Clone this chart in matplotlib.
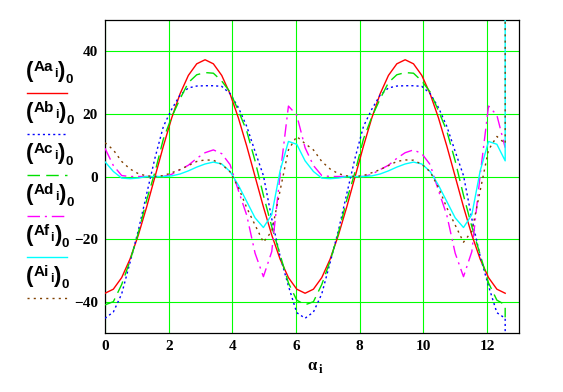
import matplotlib
matplotlib.use('Agg')
import matplotlib.pyplot as plt
from matplotlib.lines import Line2D

plt.rcParams['font.family'] = ['Liberation Serif', 'DejaVu Serif']
plt.rcParams['font.weight'] = 'bold'
plt.rcParams['lines.scale_dashes'] = False

# angle alpha_i (rad), two periods; the last sample repeats 4*pi (jump at the end)
alpha = [0.000, 0.262, 0.524, 0.785, 1.047, 1.309, 1.571, 1.833, 2.094, 2.356,
         2.618, 2.880, 3.142, 3.403, 3.665, 3.927, 4.189, 4.451, 4.712, 4.974,
         5.236, 5.498, 5.760, 6.021, 6.283, 6.545, 6.807, 7.069, 7.330, 7.592,
         7.854, 8.116, 8.378, 8.639, 8.901, 9.163, 9.425, 9.687, 9.948, 10.210,
         10.472, 10.734, 10.996, 11.257, 11.519, 11.781, 12.043, 12.305, 12.566, 12.566]

Aa = [-37.3, -36.0, -32.3, -26.4, -18.7, -9.7, 0.0, 9.7, 18.7, 26.4,
      32.3, 36.0, 37.3, 36.0, 32.3, 26.4, 18.7, 9.7, 0.0, -9.7,
      -18.7, -26.4, -32.3, -36.0, -37.3, -36.0, -32.3, -26.4, -18.7, -9.7,
      0.0, 9.7, 18.7, 26.4, 32.3, 36.0, 37.3, 36.0, 32.3, 26.4,
      18.7, 9.7, 0.0, -9.7, -18.7, -26.4, -32.3, -36.0, -37.3, -37.3]

Ab = [-45.3, -43.3, -37.5, -27.5, -17.2, -5.5, 6.0, 16.0, 21.5, 26.0,
      28.3, 28.9, 29.0, 29.0, 28.8, 26.5, 22.0, 16.0, 8.0, 0.3,
      -13.5, -25.5, -35.0, -43.5, -45.3, -43.3, -37.5, -27.5, -17.2, -5.5,
      6.0, 16.0, 21.5, 26.0, 28.3, 28.9, 29.0, 29.0, 28.8, 26.5,
      22.0, 16.0, 8.0, 0.3, -13.5, -25.5, -35.0, -43.5, -45.3, -1000.0]

Ac = [-41.0, -40.0, -34.5, -27.0, -18.0, -7.5, 1.5, 12.0, 19.0, 24.8,
      30.0, 32.5, 33.2, 33.0, 30.5, 27.0, 21.0, 14.5, 5.0, -6.0,
      -16.0, -25.0, -34.0, -39.5, -41.0, -40.0, -34.5, -27.0, -18.0, -7.5,
      1.5, 12.0, 19.0, 24.8, 30.0, 32.5, 33.2, 33.0, 30.5, 27.0,
      21.0, 14.5, 5.0, -6.0, -16.0, -25.0, -34.0, -39.5, -41.0, -45.0]

Ad = [9.0, 3.5, 0.3, 0.0, 0.0, 0.0, 0.0, 0.0, 0.7, 2.2,
      3.6, 5.8, 7.6, 8.5, 7.3, 3.8, -4.5, -12.4, -24.5, -32.0,
      -24.0, 0.5, 22.5, 19.6, 9.2, 3.5, 0.3, 0.0, 0.0, 0.0,
      0.0, 0.0, 0.7, 2.2, 3.6, 5.8, 7.6, 8.5, 7.3, 3.8,
      -4.5, -12.4, -24.5, -32.0, -24.0, 0.5, 22.5, 19.6, 9.2, 9.2]

Af = [4.7, 1.6, -0.5, -0.7, -0.5, 0.0, 0.0, 0.0, 0.2, 0.8,
      1.8, 3.0, 4.0, 4.6, 4.0, 1.6, -2.8, -8.0, -13.2, -16.3,
      -12.2, 1.8, 11.2, 10.3, 5.0, 1.6, -0.5, -0.7, -0.5, 0.0,
      0.0, 0.0, 0.2, 0.8, 1.8, 3.0, 4.0, 4.6, 4.0, 1.6,
      -2.8, -8.0, -13.2, -16.3, -12.2, 1.8, 11.2, 10.3, 5.0, 1000.0]

Ai = [10.8, 8.5, 4.8, 2.4, 0.9, 0.2, 0.0, 0.3, 1.2, 2.2,
      3.5, 4.8, 5.3, 5.2, 3.9, 1.5, -3.5, -10.0, -15.5, -21.0,
      -17.5, -4.5, 8.5, 12.8, 10.5, 8.5, 4.8, 2.4, 0.9, 0.2,
      0.0, 0.3, 1.2, 2.2, 3.5, 4.8, 5.3, 5.2, 3.9, 1.5,
      -3.5, -10.0, -15.5, -21.0, -17.5, -4.5, 8.5, 12.8, 10.5, 1000.0]

names = ['Aa', 'Ab', 'Ac', 'Ad', 'Af', 'Ai']
series = [Aa, Ab, Ac, Ad, Af, Ai]
colors = ['#ff0000', '#0000ff', '#00e000', '#ff00ff', '#00ffff', '#804000']
styles = ['-', (0, (1.5, 2.2)), (0, (9, 4.5)), (0, (9, 3.5, 1.5, 3.5)), '-', (0, (1.5, 3.0))]

W, H = 563, 392
fig = plt.figure(figsize=(W / 100, H / 100), dpi=100)
ax = fig.add_axes([105 / W, 1 - 333 / H, 414 / W, 313 / H])

for vals, c, ls in zip(series, colors, styles):
    ax.plot(alpha, vals, color=c, lw=1.0, linestyle=ls, zorder=3)

ax.set_xlim(0, 13)
ax.set_ylim(-50, 50)
ax.set_xticks([0, 2, 4, 6, 8, 10, 12])
ax.set_yticks([-40, -20, 0, 20, 40])
ax.grid(True, color='#00ff00', lw=0.8)
ax.set_axisbelow(True)
ax.tick_params(length=0, labelsize=11, pad=5)
for sp in ax.spines.values():
    sp.set_color('black')
    sp.set_linewidth(0.9)

# x label: alpha with subscript i
fig.text(307 / W, 1 - 370 / H, 'α', fontsize=12, va='baseline', ha='left')
fig.text(319 / W, 1 - 373 / H, 'i', fontsize=9, va='baseline', ha='left')

# Mathcad style legend: label above the line sample
rend = fig.canvas.get_renderer()


def put(x, y, s, size):
    t = fig.text(x / W, 1 - y / H, s, fontsize=size, family='Liberation Sans',
                 fontweight='bold', va='baseline', ha='left')
    return t.get_window_extent(rend).x1


for j, (nm, c, ls) in enumerate(zip(names, colors, styles)):
    dy = 41 * j
    x = put(26, 77 + dy, '(', 16)
    x = put(x + 0.5, 71 + dy, nm, 11)
    x = put(x + 0.5, 77 + dy, 'i', 9)
    x = put(x, 77 + dy, ')', 16)
    put(x + 0.5, 83 + dy, '0', 9.5)
    ly = 93.3 + dy
    fig.add_artist(Line2D([27 / W, 67 / W], [1 - ly / H, 1 - ly / H],
                          color=c, lw=1.0, linestyle=ls))

fig.savefig('out.png', dpi=100)
